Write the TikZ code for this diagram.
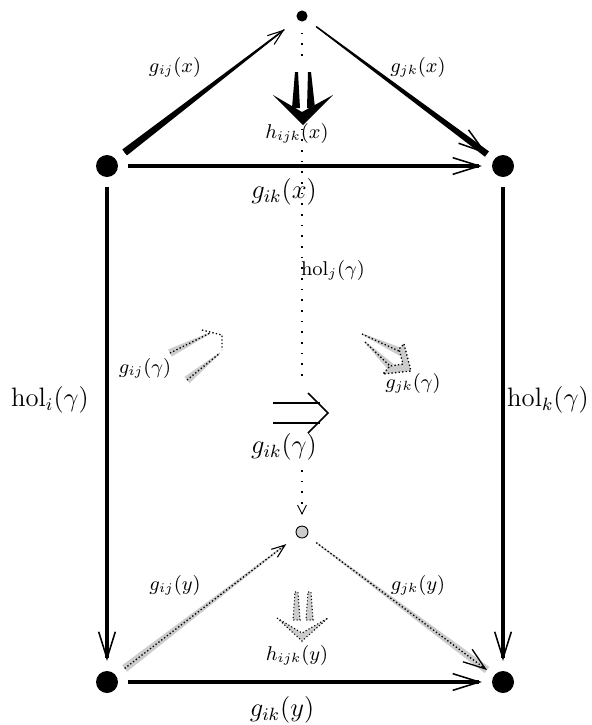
\documentclass[tikz,border=0pt]{standalone}
\usepackage{amsmath, amssymb}
\usetikzlibrary{arrows.meta, calc}

\tikzset{
    bigdot/.style={circle, fill=black, inner sep=0pt, minimum size=9.9pt, outer sep=4.5pt},
    smalldot/.style={circle, fill=black, inner sep=0pt, minimum size=5pt, outer sep=5pt},
    greydot/.style={circle, draw=black, line width=0.4pt, fill=gray!40, inner sep=0pt, minimum size=5.4pt, outer sep=5pt},
    onecell/.style={line width=2.2pt, -{Straight Barb[length=12pt, width=7.5pt, line width=0.7pt]}},
    ghost/.style={densely dotted, line width=0.6pt},
    lbl/.style={font=\small, inner sep=1pt},
    biglbl/.style={font=\large, inner sep=1pt},
    band/.style n args={4}{insert path={($(#1)!#3!90:(#2)$) -- ($(#2)!#4!-90:(#1)$) -- ($(#2)!#4!90:(#1)$) -- ($(#1)!#3!-90:(#2)$) -- cycle}}
}

\begin{document}
\begin{tikzpicture}[x=0.45pt, y=-0.45pt]
\useasboundingbox (0,0) rectangle (592,725);

% vertices
\node[smalldot] (jx) at (302,16) {};
\node[bigdot] (ix) at (107,166) {};
\node[bigdot] (kx) at (503,166) {};
\node[greydot] (jy) at (302,532) {};
\node[bigdot] (iy) at (107,682) {};
\node[bigdot] (ky) at (503,682) {};

% hol_j, dotted, behind everything
\draw[line width=0.8pt, dash pattern=on 0.8pt off 4pt, -{Straight Barb[length=4pt, width=4pt, line width=0.4pt]}] (jx) -- (jy);

% top triangle
\coordinate (ijs) at ($(ix)!10pt!(jx)$);
\coordinate (ije) at ($(jx)!10pt!(ix)$);
\fill[band={ijs}{ije}{1.7pt}{0.3pt}];
\draw[line width=0.5pt, -{Straight Barb[length=7pt, width=5pt, line width=0.5pt]}] (ijs) -- (ije);
\coordinate (jks) at ($(jx)!8pt!(kx)$);
\coordinate (jke) at ($(kx)!9pt!(jx)$);
\fill[band={jks}{jke}{0.3pt}{1.5pt}];
\draw[line width=0.5pt, -{Straight Barb[length=12pt, width=7.5pt, line width=0.7pt]}] (jks) -- (jke);
\draw[onecell] (ix) -- (kx);

% h_ijk(x)
\fill[white] (272,62) rectangle (334,126);
\fill (295,72) -- (298,72) -- (300,108) -- (292,108) -- cycle;
\fill (308,72) -- (311,72) -- (315,108) -- (307,108) -- cycle;
\fill (273,95) -- (302,112) -- (333,95) -- (303,125) -- cycle;

% verticals
\draw[onecell] (ix) -- (iy);
\draw[onecell] (kx) -- (ky);

% bottom triangle
\coordinate (bijs) at ($(iy)!10pt!(jy)$);
\coordinate (bije) at ($(jy)!9pt!(iy)$);
\fill[gray!40, band={bijs}{bije}{1.8pt}{0.3pt}];
\draw[ghost, -{Straight Barb[length=6pt, width=4.5pt, line width=0.5pt]}] (bijs) -- (bije);
\coordinate (bjks) at ($(jy)!8pt!(ky)$);
\coordinate (bjke) at ($(ky)!9pt!(jy)$);
\fill[gray!40, band={bjks}{bjke}{0.3pt}{1.7pt}];
\draw[ghost, -{Straight Barb[length=10pt, width=7pt, line width=0.6pt]}] (bjks) -- (bjke);
\draw[onecell] (iy) -- (ky);

% h_ijk(y)
\begin{scope}[shift={(0,520)}, fill=gray!40, draw=black, densely dotted, line width=0.5pt]
\filldraw (295,72) -- (298,72) -- (300,100) -- (293,100) -- cycle;
\filldraw (308,72) -- (311,72) -- (313,100) -- (306,100) -- cycle;
\filldraw (277,98) -- (302,113) -- (328,98) -- (302,121) -- cycle;
\end{scope}

% g_ij(gamma)
\coordinate (lus) at (170,353);
\coordinate (lue) at (210,333);
\coordinate (lls) at (187,380);
\coordinate (lle) at (220,353);
\fill[gray!40, band={lus}{lue}{1.8pt}{0.3pt}];
\fill[gray!40, band={lls}{lle}{1.8pt}{0.3pt}];
\draw[ghost] (lus) -- (lue);
\draw[ghost] (lls) -- (lle);
\draw[ghost] (202,330) -- (222,335) -- (222,350);

% g_jk(gamma)
\coordinate (rus) at (362,334);
\coordinate (rue) at (401,352);
\coordinate (rls) at (365,342);
\coordinate (rle) at (391,367);
\fill[gray!40, band={rus}{rue}{0.3pt}{1.8pt}];
\fill[gray!40, band={rls}{rle}{0.3pt}{1.8pt}];
\draw[ghost] (rus) -- (rue);
\draw[ghost] (rls) -- (rle);
\filldraw[ghost, fill=gray!40] (404,344) -- (411,371) -- (383,374) -- (390,366) -- (403,364) -- (399,349) -- cycle;

% g_ik(gamma)
\fill[white] (266,384) rectangle (334,466);
\draw[line width=0.7pt] (273,403) -- (320,403);
\draw[line width=0.7pt] (273,423) -- (320,423);
\draw[line width=0.7pt] (308,393) -- (328,413) -- (308,433);

% labels
\node[lbl] (lijx) at (175,67) {$g_{ij}(x)$};
\node[lbl] (ljkx) at (418,67) {$g_{jk}(x)$};
\node[lbl] (lhx) at (297,133) {$h_{ijk}(x)$};
\node[biglbl] (likx) at (284,192) {$g_{ik}(x)$};
\node[lbl] (lholj) at (333,270) {$\mathrm{hol}_j(\gamma)$};
\node[lbl] (lijg) at (145,368) {$g_{ij}(\gamma)$};
\node[lbl] (ljkg) at (413,383) {$g_{jk}(\gamma)$};
\node[biglbl] (lholi) at (50,400) {$\mathrm{hol}_i(\gamma)$};
\node[biglbl] (lholk) at (548,400) {$\mathrm{hol}_k(\gamma)$};
\node[biglbl] (likg) at (284,447) {$g_{ik}(\gamma)$};
\node[lbl] (lijy) at (175,585) {$g_{ij}(y)$};
\node[lbl] (ljky) at (418,585) {$g_{jk}(y)$};
\node[lbl] (lhy) at (297,655) {$h_{ijk}(y)$};
\node[biglbl] (liky) at (282,710) {$g_{ik}(y)$};

\end{tikzpicture}
\end{document}
